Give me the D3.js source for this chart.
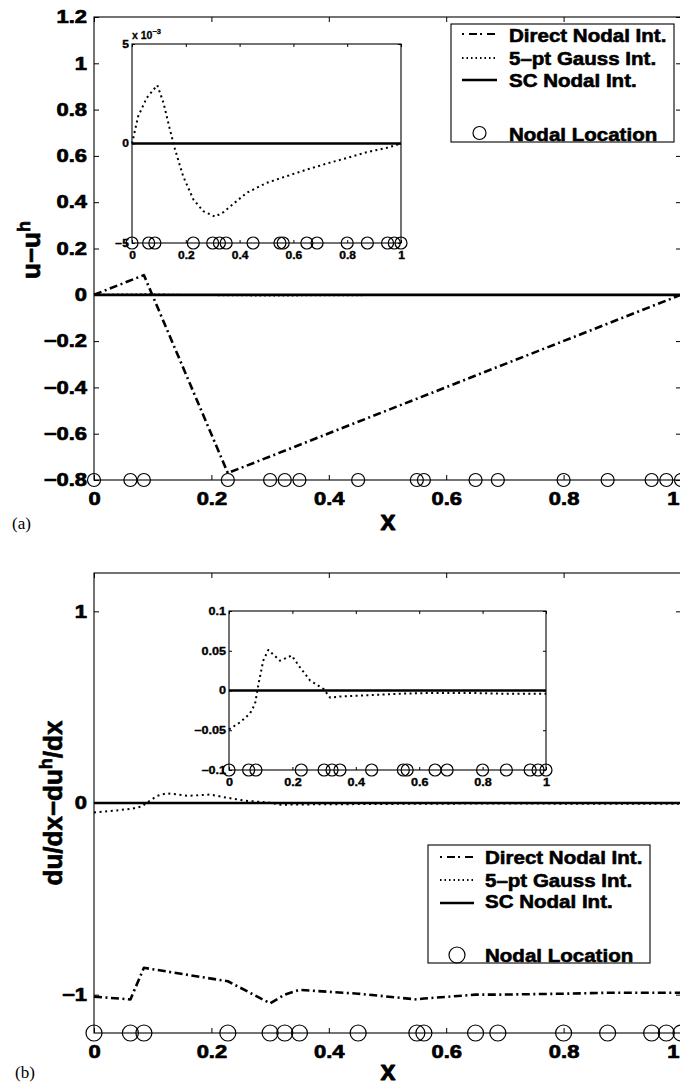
<!DOCTYPE html>
<html><head><meta charset="utf-8">
<script src="https://cdn.jsdelivr.net/npm/d3@7"></script>
<style>
body{margin:0;background:#fff}
svg{display:block}
</style></head><body>
<svg id="c" width="680" height="1086"></svg>
<script>
// ---------------- data ----------------
const nodes = [0, 0.062, 0.085, 0.228, 0.3, 0.325, 0.35, 0.45, 0.55, 0.562, 0.65, 0.688, 0.8, 0.875, 0.95, 0.975, 1.0];

// (a) u - u^h
const directAX = [0, 0.085, 0.228, 1];
const directAY = [0, 0.085, -0.77, 0];
const gaussAX = [0, 0.023, 0.055, 0.094, 0.117, 0.141, 0.16, 0.19, 0.228, 0.265, 0.309, 0.34, 0.426, 0.5, 0.575, 0.65, 0.724, 0.8, 0.872, 0.947, 1.0];
const gaussAY = [0, 1.37, 2.3, 2.93, 2.05, 0.70, -0.30, -1.64, -2.81, -3.40, -3.68, -3.45, -2.48, -1.98, -1.64, -1.31, -1.01, -0.72, -0.44, -0.22, 0]; // x 10^-3
const scAX = [0, 1];
const scAY = [0, 0];

// (b) du/dx - du^h/dx
const directBX = nodes;
const directBY = [-1.01, -1.025, -0.86, -0.93, -1.045, -1.0, -0.975, -0.995, -1.025, -1.02, -1.0, -1.0, -0.995, -0.99, -0.99, -0.99, -0.99];
const gaussBX = [0, 0.035, 0.066, 0.082, 0.093, 0.108, 0.124, 0.161, 0.198, 0.224, 0.256, 0.298, 0.319, 0.35, 0.435, 0.54, 0.645, 0.75, 0.856, 1.0];
const gaussBY = [-0.049, -0.040, -0.029, -0.017, 0.008, 0.0375, 0.051, 0.0375, 0.044, 0.029, 0.0125, 0.002, -0.009, -0.0075, -0.006, -0.004, -0.003, -0.003, -0.004, -0.004];
const scBX = [0, 1];
const scBY = [0, 0];

// ticks
const xTicks = [0, 0.2, 0.4, 0.6, 0.8, 1];
const xTickLabels = ["0", "0.2", "0.4", "0.6", "0.8", "1"];
const yTicksA = [-0.8, -0.6, -0.4, -0.2, 0, 0.2, 0.4, 0.6, 0.8, 1, 1.2];
const yTickLabelsA = ["\u22120.8", "\u22120.6", "\u22120.4", "\u22120.2", "0", "0.2", "0.4", "0.6", "0.8", "1", "1.2"];
const yTicksAi = [-5e-3, 0, 5e-3];
const yTickLabelsAi = ["\u22125", "0", "5"];
const yTicksB = [-1, 0, 1];
const yTickLabelsB = ["\u22121", "0", "1"];
const yTicksBi = [-0.1, -0.05, 0, 0.05, 0.1];
const yTickLabelsBi = ["\u22120.1", "\u22120.05", "0", "0.05", "0.1"];

const legendLabels = ["Direct Nodal Int.", "5\u2013pt Gauss Int.", "SC Nodal Int.", "Nodal Location"];

// ---------------- drawing ----------------
const FONT = "'Liberation Sans', Arial, Helvetica, sans-serif";
const svg = d3.select("#c");
svg.append("rect").attr("width", 680).attr("height", 1086).attr("fill", "#fff");

function stretch(sel, f) {
  sel.each(function () {
    const L = this.getComputedTextLength();
    if (L > 0) {
      this.setAttribute("textLength", L * f);
      this.setAttribute("lengthAdjust", "spacingAndGlyphs");
    }
  });
}
function heavy(sel, w) {
  sel.attr("stroke", "#000").attr("stroke-width", w).attr("stroke-linejoin", "round");
}

const styles = {
  direct: { w: 2.6, dash: "8,3.5,2,3.5" },
  gauss: { w: 1.6, dash: "1.6,3" },
  sc: { w: 2.7, dash: null }
};

function line(g, x, y, xs, ys, st) {
  const data = xs.map((v, i) => [v, ys[i]]);
  const p = g.append("path").datum(data)
    .attr("d", d3.line().x(d => x(d[0])).y(d => y(d[1])))
    .attr("fill", "none").attr("stroke", "#000")
    .attr("stroke-width", st.w).attr("stroke-linejoin", "round");
  if (st.dash) p.attr("stroke-dasharray", st.dash);
  return p;
}

function axes(g, x, y, o) {
  const [x0, x1] = x.range();
  const [y0, y1] = y.range();
  const ax = [];
  const bottom = g.append("g").attr("transform", `translate(0,${y0})`)
    .call(d3.axisBottom(x).tickValues(o.xt).tickFormat((d, i) => o.xtl[i]).tickSize(-o.tick).tickPadding(o.xpad));
  ax.push(bottom);
  ax.push(g.append("g").attr("transform", `translate(0,${y1})`)
    .call(d3.axisTop(x).tickValues(o.xt).tickFormat("").tickSize(-o.tick)));
  ax.push(g.append("g").attr("transform", `translate(${x0},0)`)
    .call(d3.axisLeft(y).tickValues(o.yt).tickFormat((d, i) => o.ytl[i]).tickSize(-o.tick).tickPadding(o.ypad)));
  ax.push(g.append("g").attr("transform", `translate(${x1},0)`)
    .call(d3.axisRight(y).tickValues(o.yt).tickFormat("").tickSize(-o.tick)));
  ax.forEach(a => {
    a.select(".domain").remove();
    a.attr("font-size", o.fs).attr("font-family", FONT).attr("font-weight", "bold");
    a.selectAll("line").attr("stroke", "#000").attr("stroke-width", 1);
    a.selectAll("text").attr("fill", "#000");
    stretch(a.selectAll("text"), o.stretch);
    heavy(a.selectAll("text"), o.heavy);
  });
  // keep the last x label inside the page
  bottom.selectAll(".tick").each(function (d) {
    const t = d3.select(this).select("text");
    const w = t.node().getComputedTextLength();
    const tx = x(d);
    if (tx + w / 2 > 679) t.attr("text-anchor", "end").attr("x", 679 - tx);
  });
  g.append("rect").attr("x", x0).attr("y", y1).attr("width", x1 - x0).attr("height", y0 - y1)
    .attr("fill", "none").attr("stroke", "#000").attr("stroke-width", 1.1);
}

function circles(g, x, yv, r) {
  g.append("g").selectAll("circle").data(nodes).join("circle")
    .attr("cx", d => x(d)).attr("cy", yv).attr("r", r)
    .attr("fill", "none").attr("stroke", "#000").attr("stroke-width", 1.2);
}

function legend(box, sx0, sx1, tx, base, sampY, cr) {
  const g = svg.append("g");
  g.append("rect").attr("x", box[0]).attr("y", box[1]).attr("width", box[2]).attr("height", box[3])
    .attr("fill", "#fff").attr("stroke", "#000").attr("stroke-width", 1.1);
  const st = [styles.direct, styles.gauss, styles.sc];
  st.forEach((s, i) => {
    const l = g.append("line").attr("x1", sx0).attr("x2", sx1).attr("y1", sampY[i]).attr("y2", sampY[i])
      .attr("stroke", "#000").attr("stroke-width", i === 2 ? 2.6 : 1.8);
    if (s.dash) l.attr("stroke-dasharray", i === 0 ? "2,5,8,3" : "1.5,3");
  });
  g.append("circle").attr("cx", (sx0 + sx1) / 2).attr("cy", sampY[3]).attr("r", cr)
    .attr("fill", "none").attr("stroke", "#000").attr("stroke-width", 1.2);
  const t = g.selectAll("text.lg").data(legendLabels).join("text")
    .attr("x", tx).attr("y", (d, i) => base[i])
    .attr("font-family", FONT).attr("font-weight", "bold").attr("font-size", 19)
    .text(d => d);
  stretch(t, 1.08);
  heavy(t, 0.6);
}

// ======== Panel (a) ========
const xA = d3.scaleLinear([0, 1], [94, 681]);
const yA = d3.scaleLinear([-0.8, 1.2], [480, 17]);
const gA = svg.append("g");
line(gA, xA, yA, gaussAX, gaussAY.map(v => v * 1e-3), styles.gauss);
line(gA, xA, yA, scAX, scAY, styles.sc);
line(gA, xA, yA, directAX, directAY, styles.direct);
circles(gA, xA, yA(-0.8), 6.5);
axes(gA, xA, yA, { xt: xTicks, xtl: xTickLabels, yt: yTicksA, ytl: yTickLabelsA, tick: 5, xpad: 12, ypad: 7, fs: 18, stretch: 1.22, heavy: 0.7 });

legend([451, 24, 223, 118], 462, 497, 509, [41.5, 65, 87, 141], [34, 58, 80, 133], 6.5);

// inset (a)
const xAi = d3.scaleLinear([0, 1], [132, 401]);
const yAi = d3.scaleLinear([-5e-3, 5e-3], [243, 44]);
const gAi = svg.append("g");
gAi.append("rect").attr("x", 132).attr("y", 44).attr("width", 269).attr("height", 199).attr("fill", "#fff");
line(gAi, xAi, yAi, scAX, scAY, styles.sc);
line(gAi, xAi, yAi, gaussAX, gaussAY.map(v => v * 1e-3), { w: 2, dash: "2,3.4" });
circles(gAi, xAi, yAi(-5e-3), 6);
axes(gAi, xAi, yAi, { xt: xTicks, xtl: xTickLabels, yt: yTicksAi, ytl: yTickLabelsAi, tick: 3, xpad: 9, ypad: 3, fs: 10, stretch: 1.2, heavy: 0.35 });
const mult = gAi.append("text").attr("x", 132).attr("y", 38.5)
  .attr("font-family", FONT).attr("font-weight", "bold").attr("font-size", 10.5);
mult.append("tspan").text("x 10");
mult.append("tspan").attr("dy", -5).attr("font-size", 7.5).text("\u22123");
heavy(mult, 0.3);

// labels (a)
const xlA = svg.append("text").attr("x", 388).attr("y", 530).attr("text-anchor", "middle")
  .attr("font-family", FONT).attr("font-weight", "bold").attr("font-size", 27).text("x");
heavy(xlA, 0.8);
const ylA = svg.append("text").attr("transform", "translate(40,250) rotate(-90)").attr("text-anchor", "middle")
  .attr("font-family", FONT).attr("font-weight", "bold").attr("font-size", 26);
ylA.append("tspan").text("u\u2212u");
ylA.append("tspan").attr("dy", -10).attr("font-size", 18).text("h");
heavy(ylA, 0.7);
svg.append("text").attr("x", 12).attr("y", 529).attr("font-family", "'Liberation Serif', 'Times New Roman', serif")
  .attr("font-size", 17).text("(a)");

// ======== Panel (b) ========
const xB = d3.scaleLinear([0, 1], [94, 681]);
const yB = d3.scaleLinear([-1.2, 1.2], [1033, 573]);
const gB = svg.append("g");
line(gB, xB, yB, scBX, scBY, styles.sc);
line(gB, xB, yB, gaussBX, gaussBY, { w: 2, dash: "2,3.6" });
line(gB, xB, yB, directBX, directBY, styles.direct);
circles(gB, xB, yB(-1.2), 8);
axes(gB, xB, yB, { xt: xTicks, xtl: xTickLabels, yt: yTicksB, ytl: yTickLabelsB, tick: 5, xpad: 12, ypad: 7, fs: 18, stretch: 1.22, heavy: 0.7 });

legend([428, 845, 222, 118], 440, 474, 485, [864, 887, 908, 962], [857, 880, 903, 955], 8);

// inset (b)
const xBi = d3.scaleLinear([0, 1], [229, 546]);
const yBi = d3.scaleLinear([-0.1, 0.1], [770, 611]);
const gBi = svg.append("g");
gBi.append("rect").attr("x", 229).attr("y", 611).attr("width", 317).attr("height", 159).attr("fill", "#fff");
line(gBi, xBi, yBi, scBX, scBY, styles.sc);
line(gBi, xBi, yBi, gaussBX, gaussBY, { w: 2, dash: "2,3.4" });
circles(gBi, xBi, yBi(-0.1), 6);
axes(gBi, xBi, yBi, { xt: xTicks, xtl: xTickLabels, yt: yTicksBi, ytl: yTickLabelsBi, tick: 3, xpad: 9, ypad: 3, fs: 10.5, stretch: 1.2, heavy: 0.35 });

// labels (b)
const xlB = svg.append("text").attr("x", 388).attr("y", 1080).attr("text-anchor", "middle")
  .attr("font-family", FONT).attr("font-weight", "bold").attr("font-size", 27).text("x");
heavy(xlB, 0.8);
const ylB = svg.append("text").attr("transform", "translate(62,803) rotate(-90)").attr("text-anchor", "middle")
  .attr("font-family", FONT).attr("font-weight", "bold").attr("font-size", 26);
ylB.append("tspan").text("du/dx\u2212du");
ylB.append("tspan").attr("dy", -10).attr("font-size", 18).text("h");
ylB.append("tspan").attr("dy", 10).text("/dx");
heavy(ylB, 0.7);
svg.append("text").attr("x", 15).attr("y", 1078).attr("font-family", "'Liberation Serif', 'Times New Roman', serif")
  .attr("font-size", 17).text("(b)");
</script>
</body></html>
